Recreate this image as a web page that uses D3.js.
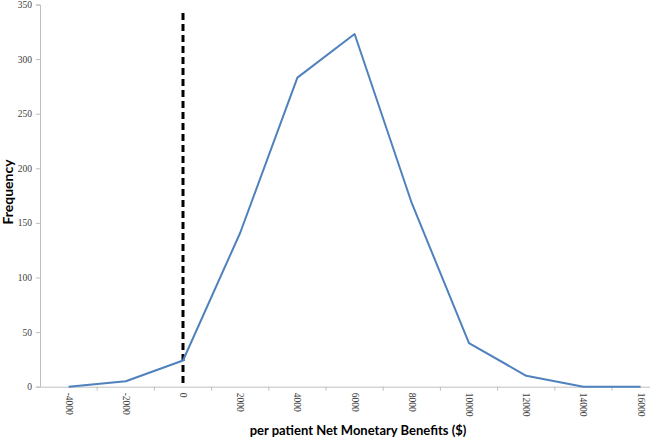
<!DOCTYPE html>
<html><head><meta charset="utf-8">
<script src="https://cdn.jsdelivr.net/npm/d3@7"></script>
<style>body{margin:0;background:#fff}svg{display:block}</style>
</head><body>
<svg id="c" width="650" height="439"></svg>
<script>
const categories = ["-4000","-2000","0","2000","4000","6000","8000","10000","12000","14000","16000"];
const frequency = [0, 5, 24, 141, 283, 323, 168, 40, 10, 0, 0];
const yTicks = [0, 50, 100, 150, 200, 250, 300, 350];
const refCategory = "0";

const svg = d3.select("#c");
const x = d3.scaleBand().domain(categories).range([40, 669.2]).paddingInner(0).paddingOuter(0);
const y = d3.scaleLinear().domain([0, 350]).range([386.7, 4.5]);
const serif = "'Liberation Serif', 'DejaVu Serif', serif";

// Y axis
const yAxis = svg.append("g").attr("transform", "translate(40,0)")
  .call(d3.axisLeft(y).tickValues(yTicks).tickSize(4).tickPadding(4));
yAxis.select(".domain").attr("stroke", "#bfbfbf");
yAxis.selectAll(".tick line").attr("stroke", "#bfbfbf");
yAxis.selectAll(".tick text").attr("font-family", serif).attr("font-size", 9.5).attr("fill", "#404040");

// X axis
const xAxis = svg.append("g").attr("transform", "translate(0," + y(0) + ")")
  .call(d3.axisBottom(x).tickSize(0).tickPadding(0));
xAxis.select(".domain").attr("stroke", "#bfbfbf");
xAxis.selectAll(".tick line").remove();
xAxis.selectAll(".tick text")
  .attr("font-family", serif).attr("font-size", 9.5).attr("fill", "#404040")
  .attr("transform", "rotate(90)")
  .attr("text-anchor", "start").attr("dy", "0.32em").attr("x", 6).attr("y", 0);
// boundary ticks between categories
xAxis.selectAll(".bt").data(categories.slice(1)).enter().append("line")
  .attr("class", "bt")
  .attr("x1", d => x(d)).attr("x2", d => x(d))
  .attr("y1", 0).attr("y2", 4).attr("stroke", "#bfbfbf");

// Reference dashed line at 0
svg.append("line")
  .attr("x1", x(refCategory) + x.bandwidth() / 2).attr("x2", x(refCategory) + x.bandwidth() / 2)
  .attr("y1", 13).attr("y2", y(0))
  .attr("stroke", "#000").attr("stroke-width", 3).attr("stroke-dasharray", "7,4");

// Series line
const line = d3.line()
  .x((d, i) => x(categories[i]) + x.bandwidth() / 2)
  .y(d => y(d));
svg.append("path").datum(frequency)
  .attr("d", line).attr("fill", "none")
  .attr("stroke", "#4f81bd").attr("stroke-width", 2).attr("stroke-linejoin", "round");

// Axis titles
svg.append("text").attr("x", 358).attr("y", 435)
  .attr("text-anchor", "middle").attr("font-family", "Lato, 'Open Sans', sans-serif")
  .attr("font-weight", "bold").attr("font-size", 13).attr("fill", "#000")
  .text("per patient Net Monetary Benefits ($)");
svg.append("text").attr("transform", "translate(13,192) rotate(-90)")
  .attr("text-anchor", "middle").attr("font-family", "Lato, 'Open Sans', sans-serif")
  .attr("font-weight", "bold").attr("font-size", 14).attr("fill", "#000")
  .text("Frequency");
</script>
</body></html>
